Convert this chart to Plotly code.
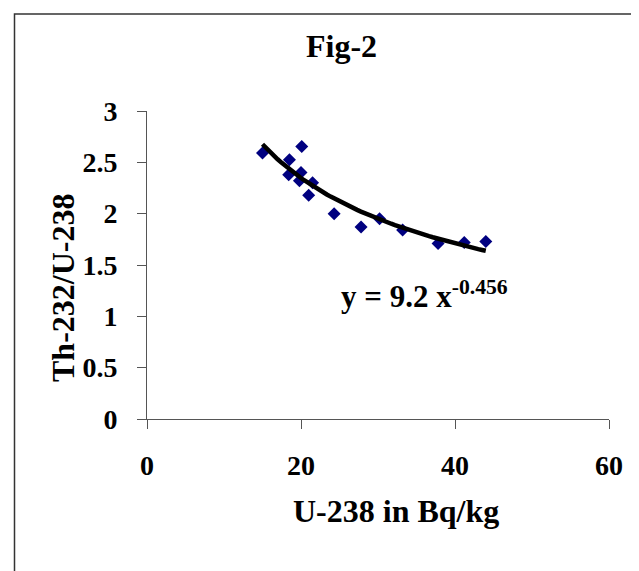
import plotly.graph_objects as go

# Data
u238 = [15.0, 20.1, 18.5, 18.4, 20.0, 19.8, 21.5, 21.0, 24.3, 27.8, 30.2, 33.2, 37.8, 41.2, 44.0]
ratio = [2.59, 2.655, 2.525, 2.38, 2.40, 2.32, 2.30, 2.18, 2.00, 1.87, 1.95, 1.84, 1.71, 1.72, 1.73]

# Power trendline y = a * x^b (coefficients shown on the chart)
coef_a = 9.2
coef_b = -0.456
n_trend = 60
x_lo, x_hi = min(u238), max(u238)
trend_x = [x_lo + (x_hi - x_lo) * i / (n_trend - 1) for i in range(n_trend)]
trend_y = [coef_a * x ** coef_b for x in trend_x]

x_ticks = [0, 20, 40, 60]
y_ticks = [0, 0.5, 1, 1.5, 2, 2.5, 3]

FONT = "Liberation Serif"
AX = "#555555"

fig = go.Figure()
fig.add_trace(go.Scatter(
    x=u238, y=ratio, mode="markers",
    marker=dict(symbol="diamond", size=10, color="#000080"),
    showlegend=False, cliponaxis=False))
fig.add_trace(go.Scatter(
    x=trend_x, y=trend_y, mode="lines",
    line=dict(color="black", width=4.5),
    showlegend=False, cliponaxis=False))

# plot area: x 139..601, y 103..411 in pixels
L, R, T, B = 139, 38, 103, 160
PW, PH = 639 - L - R, 571 - T - B

def px(x):
    return (x - L) / PW

def py(y):
    return (571 - B - y) / PH

fig.update_layout(
    width=639, height=571,
    margin=dict(l=L, r=R, t=T, b=B),
    paper_bgcolor="white", plot_bgcolor="white",
    font=dict(family=FONT, color="black"),
    xaxis=dict(range=[0, 60], tickvals=x_ticks, showgrid=False, zeroline=False,
               showline=True, linecolor=AX, linewidth=1,
               ticks="outside", ticklen=9, tickcolor=AX, tickwidth=1,
               tickfont=dict(family=FONT, size=28, weight="bold", color="black"),
               ticklabelstandoff=12),
    yaxis=dict(range=[0, 3], tickvals=y_ticks, showgrid=False, zeroline=False,
               showline=True, linecolor=AX, linewidth=1,
               ticks="outside", ticklen=9, tickcolor=AX, tickwidth=1,
               tickfont=dict(family=FONT, size=28, weight="bold", color="black"),
               ticklabelstandoff=14),
    shapes=[dict(type="rect", xref="paper", yref="paper",
                 x0=px(6.5), x1=px(700), y0=py(700), y1=py(6),
                 line=dict(color="#333333", width=1.5), layer="above")],
    annotations=[
        dict(text="<b>Fig-2</b>", xref="paper", yref="paper",
             x=px(333), y=py(38), xanchor="center", yanchor="middle",
             showarrow=False, font=dict(family=FONT, size=32, color="black")),
        dict(text="<b>U-238 in Bq/kg</b>", xref="paper", yref="paper",
             x=px(388), y=py(503), xanchor="center", yanchor="middle",
             showarrow=False, font=dict(family=FONT, size=32, color="black")),
        dict(text="<b>Th-232/U-238</b>", xref="paper", yref="paper",
             x=px(55), y=py(280), xanchor="center", yanchor="middle", textangle=-90,
             showarrow=False, font=dict(family=FONT, size=32, color="black")),
        dict(text="<b>y = 9.2 x<sup>-0.456</sup></b>", xref="paper", yref="paper",
             x=px(331), y=py(286), xanchor="left", yanchor="middle",
             showarrow=False, font=dict(family=FONT, size=31, color="black")),
    ],
)

fig.write_html("out.html")
